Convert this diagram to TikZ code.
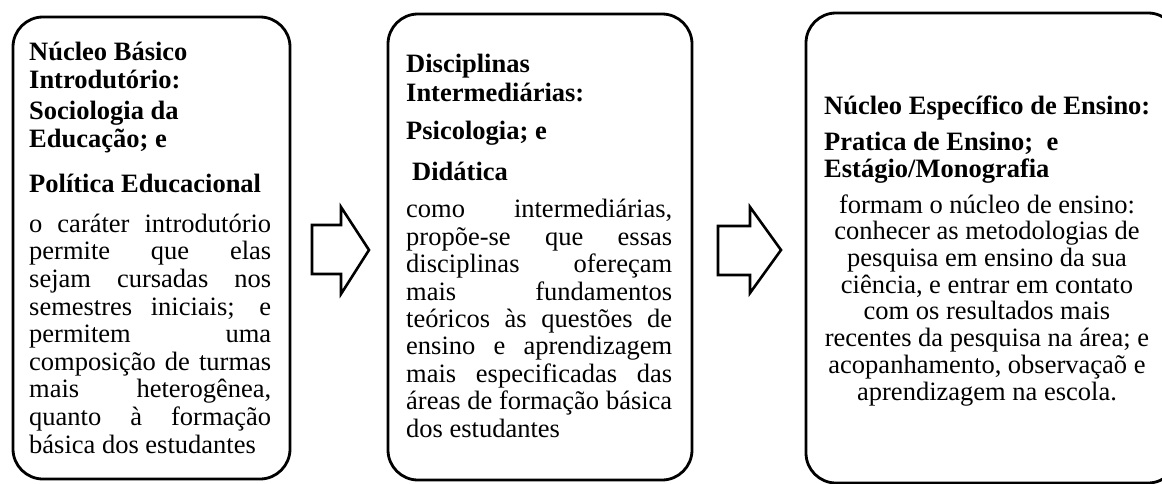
\documentclass[tikz,border=0pt]{standalone}
\usepackage{fontspec}
\setmainfont{Liberation Serif}
\begin{document}
\begin{tikzpicture}[x=1pt,y=-1pt,
  frame/.style={draw=black,line width=2.8pt,rounded corners=30pt},
  blockarrow/.style={draw=black,line width=2.6pt,fill=white,line join=miter},
  head/.style={inner sep=0pt,anchor=base west,align=left,font=\fontsize{26.5}{28}\selectfont\bfseries},
  body/.style={inner sep=0pt,anchor=base west,align=left,font=\fontsize{26.5}{27.6}\selectfont},
  cbody/.style={inner sep=0pt,anchor=base,align=center,font=\fontsize{26.5}{26.7}\selectfont}]
\clip (0,0) rectangle (1162,484);
\fill[white] (0,0) rectangle (1162,484);
% boxes
\draw[frame] (13,17) rectangle (290,479);
\draw[frame] (388,14) rectangle (692,480);
\draw[frame] (806,13) rectangle (1178,483);
% block arrows
\draw[blockarrow] (312,225) -- (341,225) -- (341,207) -- (369,250) -- (341,294) -- (341,274) -- (312,274) -- cycle;
\draw[blockarrow] (718,226) -- (750,226) -- (750,207) -- (781,250) -- (750,293) -- (750,275) -- (718,275) -- cycle;
% box 1 (anchors at baseline of last line)
\node[head] (a1) at (29,89) {Núcleo Básico\\Introdutório:};
\node[head] (a2) at (29,147) {Sociologia da\\Educação; e};
\node[head] (a3) at (29,193) {Política Educacional};
\node[body] (a4) at (29,453) {%
\makebox[242pt][s]{o caráter introdutório}\\
\makebox[242pt][s]{permite que elas}\\
\makebox[242pt][s]{sejam cursadas nos}\\
\makebox[242pt][s]{semestres iniciais; e}\\
\makebox[242pt][s]{permitem uma}\\
\makebox[242pt][s]{composição de turmas}\\
\makebox[242pt][s]{mais heterogênea,}\\
\makebox[242pt][s]{quanto à formação}\\
básica dos estudantes};
% box 2
\node[head,font=\fontsize{26.5}{29}\selectfont\bfseries] (b1) at (406,102) {Disciplinas\\Intermediárias:};
\node[head] (b2) at (406,140) {Psicologia; e};
\node[head] (b3) at (412,180) {Didática};
\node[body,font=\fontsize{26.5}{27.4}\selectfont] (b4) at (406,437) {%
\makebox[266pt][s]{como intermediárias,}\\
\makebox[266pt][s]{propõe-se que essas}\\
\makebox[266pt][s]{disciplinas ofereçam}\\
\makebox[266pt][s]{mais fundamentos}\\
\makebox[266pt][s]{teóricos às questões de}\\
\makebox[266pt][s]{ensino e aprendizagem}\\
\makebox[266pt][s]{mais especificadas das}\\
\makebox[266pt][s]{áreas de formação básica}\\
dos estudantes};
% box 3
\node[head] (c1) at (824,115) {Núcleo Específico de Ensino:};
\node[head,font=\fontsize{26.5}{27}\selectfont\bfseries] (c2) at (824,177) {Pratica de Ensino;~ e\\Estágio/Monografia};
\node[cbody] (c3) at (987,400) {formam o núcleo de ensino:\\
conhecer as metodologias de\\
pesquisa em ensino da sua\\
ciência, e entrar em contato\\
com os resultados mais\\
recentes da pesquisa na área; e\\
acopanhamento, observaçaõ e\\
aprendizagem na escola.};
\end{tikzpicture}
\end{document}
